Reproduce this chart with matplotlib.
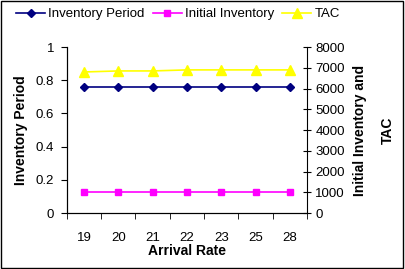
import matplotlib
matplotlib.use("Agg")
from matplotlib import pyplot as plt
import numpy as np

plt.rcParams['font.family'] = ['Liberation Sans', 'DejaVu Sans']

# data
arrival = ['19', '20', '21', '22', '23', '25', '28']
inv_period = [0.76, 0.76, 0.76, 0.76, 0.76, 0.76, 0.76]
init_inv = [1000, 1000, 1000, 1000, 1000, 1000, 1000]
tac = [6800, 6850, 6850, 6900, 6900, 6900, 6900]

x = np.arange(len(arrival))

fig = plt.figure(figsize=(4.05, 2.69), dpi=100)
ax = fig.add_axes([0.165, 0.208, 0.593, 0.617])
ax2 = ax.twinx()

l1, = ax.plot(x, inv_period, color='#000080', marker='D', markersize=4, lw=1.2, label='Inventory Period')
l2, = ax2.plot(x, init_inv, color='#FF00FF', marker='s', markersize=5, lw=1.2, label='Initial Inventory')
l3, = ax2.plot(x, tac, color='#FFFF00', marker='^', markersize=6.5, lw=1.2, label='TAC')

ax.set_xlim(-0.5, len(arrival) - 0.5)
ax.set_ylim(0, 1)
ax.set_yticks(np.arange(0, 1.01, 0.2))
ax.set_yticklabels(['0', '0.2', '0.4', '0.6', '0.8', '1'])
ax2.set_ylim(0, 8000)
ax2.set_yticks(np.arange(0, 8001, 1000))

ax.set_xticks(x)
ax.set_xticklabels(arrival)
ax.set_xticks(np.arange(-0.5, len(arrival)), minor=True)
ax.tick_params(axis='x', which='major', length=0, labelsize=9.5, pad=14)
ax.tick_params(axis='x', which='minor', length=4, direction='out')
ax.tick_params(axis='y', length=4, direction='out', labelsize=9.5, pad=5)
ax2.tick_params(axis='y', length=6, direction='inout', labelsize=9.5, pad=3)

for a in (ax, ax2):
    a.spines['top'].set_visible(False)
ax.spines['right'].set_visible(False)

ax.set_xlabel('Arrival Rate', fontsize=10, fontweight='bold', labelpad=0)
ax.set_ylabel('Inventory Period', fontsize=10, fontweight='bold', labelpad=6)
ax2.set_ylabel('Initial Inventory and\nTAC', fontsize=10, fontweight='bold', labelpad=6, linespacing=2.2)

fig.legend(handles=[l1, l2, l3], loc='upper left', bbox_to_anchor=(0.02, 1.0), ncol=3,
           frameon=False, fontsize=9.5, handlelength=2.2, handletextpad=0.25, columnspacing=0.6,
           borderaxespad=0.2)

fig.patches.append(plt.Rectangle((0.002, 0.003), 0.994, 0.994, transform=fig.transFigure,
                                 fill=False, edgecolor='black', lw=1))

fig.savefig('out.png', dpi=100)
